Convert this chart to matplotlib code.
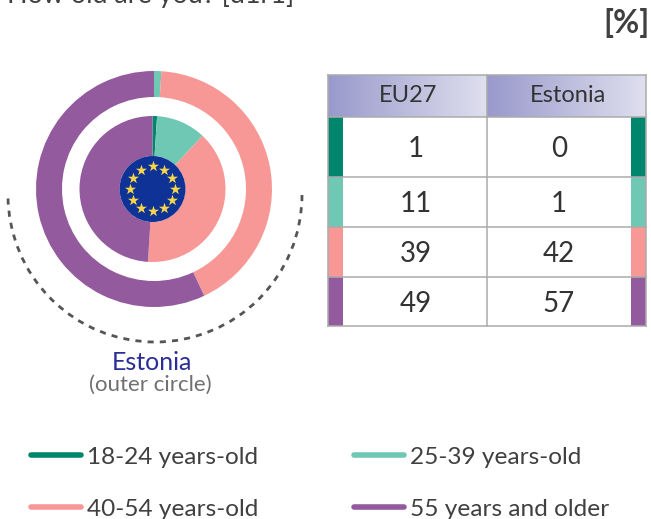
import numpy as np
import matplotlib
matplotlib.use("Agg")
import matplotlib.pyplot as plt
from matplotlib.patches import Rectangle, Arc, Circle
from matplotlib import font_manager as fm

plt.rcParams['font.family'] = ['Lato', 'DejaVu Sans']

groups = ['18-24 years-old', '25-39 years-old', '40-54 years-old', '55 years and older']
colors = ['#00866C', '#6EC8B4', '#F79896', '#945A9E']
eu27 = [1, 11, 39, 49]
estonia = [0, 1, 42, 57]
columns = ['EU27', 'Estonia']
title = 'How old are you? [d1r1]'

names = {f.name for f in fm.fontManager.ttflist}
narrow = 'Liberation Sans Narrow' in names
legend_font = 'Liberation Sans Narrow' if narrow else 'Lato'
legend_size = 20.5 if narrow else 17.6

W, H = 651, 519
fig = plt.figure(figsize=(W/100, H/100), dpi=100, facecolor='white')
bg = fig.add_axes([0, 0, 1, 1])
bg.set_xlim(0, W); bg.set_ylim(H, 0); bg.axis('off')

# donuts
cx, cy, R = 154, 189, 118
inner_c = (-1.5/118, 0)
pa = fig.add_axes([(cx-R)/W, 1-(cy+R)/H, 2*R/W, 2*R/H])
pa.pie(estonia, colors=colors, radius=1.0, startangle=90, counterclock=False,
       wedgeprops=dict(width=26/118, linewidth=0))
pa.pie(eu27, colors=colors, radius=73/118, center=inner_c, startangle=90, counterclock=False,
       wedgeprops=dict(width=40/118, linewidth=0))
pa.set_xlim(-1, 1); pa.set_ylim(-1, 1); pa.set_aspect('equal')
pa.add_patch(Circle(inner_c, 33/118, fc='#0E3296', ec='none', zorder=5))
ang = np.deg2rad(np.arange(0, 360, 30))
pa.scatter(inner_c[0]+22.5/118*np.cos(ang), 22.5/118*np.sin(ang), marker='*', s=70, c='#F7D64A',
           linewidths=0, zorder=6)

# dashed arc
bg.add_patch(Arc((155, 195), 294, 294, theta1=0, theta2=180, color='#555555', lw=2,
                 ls=(0, (2.2, 2.2))))
bg.text(151.5, 362, 'Estonia', ha='center', va='center', fontsize=18, color='#2B2E96')
bg.text(150.5, 385, '(outer circle)', ha='center', va='center', fontsize=16, color='#707070')

# title + unit
bg.text(7, 3, title, ha='left', va='baseline', fontsize=19.4, color='#404040', clip_on=False)
bg.text(650, 23, '[%]', ha='right', va='center', fontsize=23, fontweight='bold', color='#404040')

# table
xs = [328, 487, 646]
ys = [117, 177, 227, 277, 326]
grad = np.linspace(0, 1, 256)[None, :, None]
c0 = np.array([0x99, 0x99, 0xCC])/255; c1 = np.array([0xDF, 0xDF, 0xEE])/255
img = c0 + (c1-c0)*grad
name_x = [408, 568.5]
for i, name in enumerate(columns):
    bg.imshow(img, extent=[xs[i], xs[i+1], 117, 75], aspect='auto', zorder=1)
    bg.text(name_x[i], 96, name, ha='center', va='center', fontsize=17, color='#333333', zorder=4)
bg.set_xlim(0, W); bg.set_ylim(H, 0)
for r, col in enumerate(colors):
    y0, y1 = ys[r], ys[r+1]
    bg.add_patch(Rectangle((328, y0), 15, y1-y0, fc=col, ec='none', zorder=2))
    bg.add_patch(Rectangle((631, y0), 15, y1-y0, fc=col, ec='none', zorder=2))
    bg.text(415.5, (y0+y1)/2+10, str(eu27[r]), ha='center', va='baseline', fontsize=20, color='#333333', zorder=4)
    bg.text(559, (y0+y1)/2+10, str(estonia[r]), ha='center', va='baseline', fontsize=20, color='#333333', zorder=4)
for y in [75]+ys:
    bg.plot([328, 646], [y, y], color='#ABABAB', lw=1.1, zorder=3)
for x in xs:
    bg.plot([x, x], [75, 326], color='#ABABAB', lw=1.1, zorder=3)

# legend
lx = [(30.5, 80.5, 87), (353.5, 403.5, 410)]
ly = [455, 507]
for i, g in enumerate(groups):
    x0, x1, tx = lx[i % 2]
    y = ly[i // 2]
    bg.plot([x0, x1], [y, y], color=colors[i], lw=4, solid_capstyle='round', zorder=3)
    bg.text(tx, y+9, g, ha='left', va='baseline', fontsize=legend_size, family=[legend_font, 'DejaVu Sans'], color='#404040')

fig.savefig('out.png', dpi=100)
